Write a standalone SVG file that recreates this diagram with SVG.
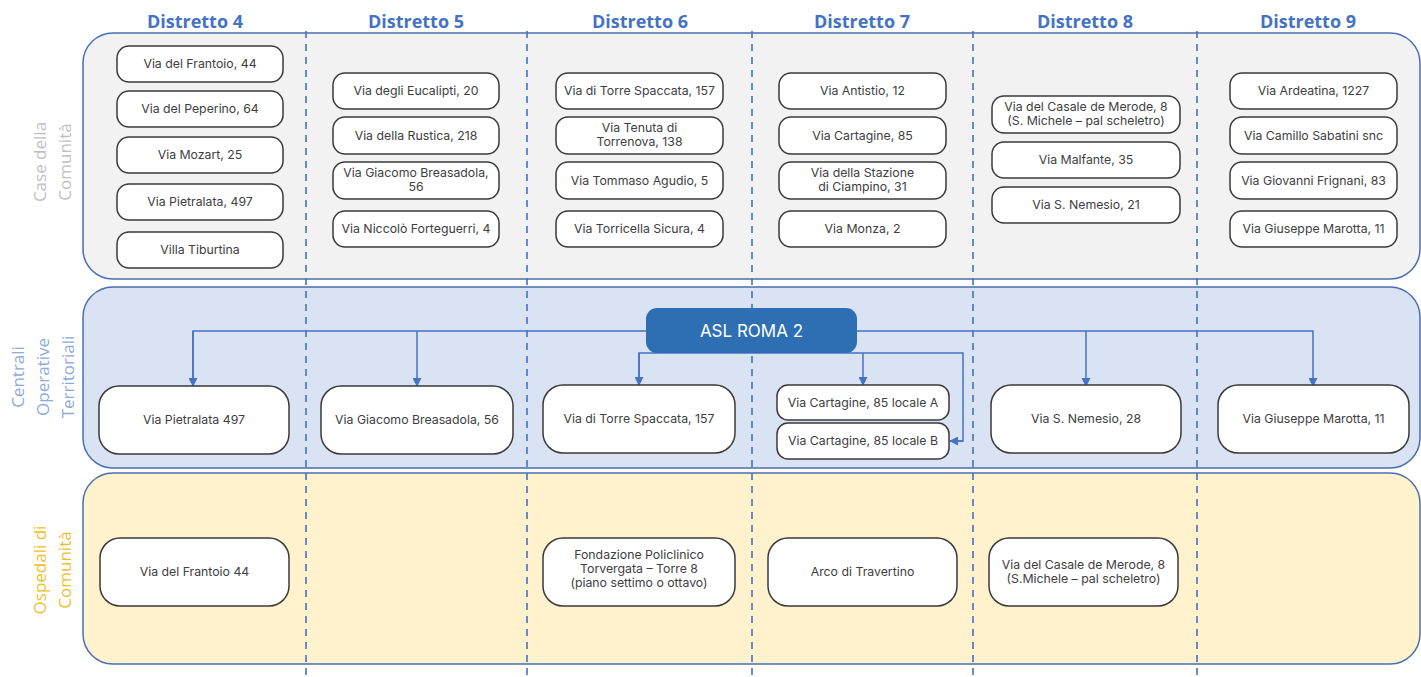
<svg xmlns="http://www.w3.org/2000/svg" width="1421" height="677" viewBox="0 0 1421 677">
  <style>
    .hdr { font-family: "Open Sans", "Liberation Sans", sans-serif; font-weight: 700; font-size: 18px; fill: #4472c4; text-anchor: middle; }
    .side { font-family: "Open Sans", "Liberation Sans", sans-serif; font-weight: 400; font-size: 17px; text-anchor: middle; }
    .box { fill: #ffffff; stroke: #3a3a3a; stroke-width: 1.5; }
    .t { font-family: Inter, "Noto Sans", "Liberation Sans", sans-serif; font-size: 12.3px; fill: #404040; text-anchor: middle; }
    .sep { stroke: #4472c4; stroke-width: 1.6; stroke-dasharray: 7 6; fill: none; }
    .link { stroke: #4472c4; stroke-width: 1.5; fill: none; }
  </style>
  <defs>
    <marker id="arr" viewBox="0 0 10 10" refX="9" refY="5" markerWidth="9" markerHeight="9" markerUnits="userSpaceOnUse" orient="auto">
      <path d="M0,0 L10,5 L0,10 Z" fill="#4472c4"/>
    </marker>
  </defs>

  <rect width="1421" height="677" fill="#ffffff"/>

  <!-- horizontal bands -->
  <g id="bands">
    <rect x="83" y="33" width="1337" height="246" rx="30" fill="#f2f2f2" stroke="#4a6fb0" stroke-width="1.5"/>
    <rect x="83" y="287" width="1337" height="181" rx="30" fill="#dae3f3" stroke="#4a6fb0" stroke-width="1.5"/>
    <rect x="83" y="473" width="1337" height="191" rx="30" fill="#fff2cc" stroke="#4a6fb0" stroke-width="1.5"/>
  </g>

  <!-- band labels -->
  <g id="band-labels">
    <text class="side" fill="#bfbfbf" transform="translate(46,162) rotate(-90)"><tspan x="0" dy="0">Case della</tspan><tspan x="0" dy="25">Comunità</tspan></text>
    <text class="side" fill="#8eaadb" transform="translate(24,377) rotate(-90)"><tspan x="0" dy="0">Centrali</tspan><tspan x="0" dy="25">Operative</tspan><tspan x="0" dy="25">Territoriali</tspan></text>
    <text class="side" fill="#eebf2c" transform="translate(46,570) rotate(-90)"><tspan x="0" dy="0">Ospedali di</tspan><tspan x="0" dy="25">Comunità</tspan></text>
  </g>

  <!-- district separators -->
  <g id="separators">
    <line class="sep" x1="306" y1="31" x2="306" y2="677"/>
    <line class="sep" x1="527" y1="31" x2="527" y2="677"/>
    <line class="sep" x1="752" y1="31" x2="752" y2="677"/>
    <line class="sep" x1="973" y1="31" x2="973" y2="677"/>
    <line class="sep" x1="1197" y1="31" x2="1197" y2="677"/>
  </g>

  <!-- district headers -->
  <g id="headers">
    <text class="hdr" x="195" y="28">Distretto 4</text>
    <text class="hdr" x="416" y="28">Distretto 5</text>
    <text class="hdr" x="640" y="28">Distretto 6</text>
    <text class="hdr" x="862" y="28">Distretto 7</text>
    <text class="hdr" x="1085" y="28">Distretto 8</text>
    <text class="hdr" x="1308" y="28">Distretto 9</text>
  </g>

  <!-- connectors -->
  <g id="connectors">
    <polyline class="link" points="193,386 193,331 1313,331 1313,386" marker-end="url(#arr)"/>
    <line class="link" x1="193" y1="331" x2="193" y2="386" marker-end="url(#arr)"/>
    <line class="link" x1="417" y1="331" x2="417" y2="386" marker-end="url(#arr)"/>
    <line class="link" x1="1086" y1="331" x2="1086" y2="386" marker-end="url(#arr)"/>
    <polyline class="link" points="639,386 639,353 963,353 963,441 950,441"/>
    <line class="link" x1="639" y1="353" x2="639" y2="385" marker-end="url(#arr)"/>
    <line class="link" x1="863" y1="353" x2="863" y2="385" marker-end="url(#arr)"/>
    <line class="link" x1="963" y1="441" x2="950" y2="441" marker-end="url(#arr)"/>
  </g>

  <!-- ASL ROMA 2 -->
  <g id="asl">
    <rect x="646" y="308" width="211" height="45" rx="11" fill="#2e6fb4"/>
    <text x="751.5" y="337" font-family="Inter, 'Noto Sans', sans-serif" font-size="17" fill="#ffffff" text-anchor="middle">ASL ROMA 2</text>
  </g>

  <!-- Case della Comunità: Distretto 4 -->
  <g id="cdc-d4">
    <rect class="box" x="117" y="46" width="166" height="36" rx="12"/><text class="t" x="200" y="68">Via del Frantoio, 44</text>
    <rect class="box" x="117" y="91" width="166" height="36" rx="12"/><text class="t" x="200" y="113">Via del Peperino, 64</text>
    <rect class="box" x="117" y="137" width="166" height="36" rx="12"/><text class="t" x="200" y="159">Via Mozart, 25</text>
    <rect class="box" x="117" y="184" width="166" height="36" rx="12"/><text class="t" x="200" y="206">Via Pietralata, 497</text>
    <rect class="box" x="117" y="232" width="166" height="36" rx="12"/><text class="t" x="200" y="254">Villa Tiburtina</text>
  </g>

  <!-- Case della Comunità: Distretto 5 -->
  <g id="cdc-d5">
    <rect class="box" x="333" y="73" width="166" height="36" rx="12"/><text class="t" x="416" y="95">Via degli Eucalipti, 20</text>
    <rect class="box" x="333" y="117" width="166" height="37" rx="12"/><text class="t" x="416" y="140">Via della Rustica, 218</text>
    <rect class="box" x="333" y="162" width="166" height="37" rx="12"/><text class="t" x="416" y="177">Via Giacomo Breasadola,</text><text class="t" x="416" y="191">56</text>
    <rect class="box" x="333" y="211" width="166" height="36" rx="12"/><text class="t" x="416" y="233">Via Niccolò Forteguerri, 4</text>
  </g>

  <!-- Case della Comunità: Distretto 6 -->
  <g id="cdc-d6">
    <rect class="box" x="556" y="73" width="167" height="36" rx="12"/><text class="t" x="639.5" y="95">Via di Torre Spaccata, 157</text>
    <rect class="box" x="556" y="117" width="167" height="37" rx="12"/><text class="t" x="639.5" y="132">Via Tenuta di</text><text class="t" x="639.5" y="146">Torrenova, 138</text>
    <rect class="box" x="556" y="162" width="167" height="37" rx="12"/><text class="t" x="639.5" y="185">Via Tommaso Agudio, 5</text>
    <rect class="box" x="556" y="211" width="167" height="36" rx="12"/><text class="t" x="639.5" y="233">Via Torricella Sicura, 4</text>
  </g>

  <!-- Case della Comunità: Distretto 7 -->
  <g id="cdc-d7">
    <rect class="box" x="779" y="73" width="167" height="36" rx="12"/><text class="t" x="862.5" y="95">Via Antistio, 12</text>
    <rect class="box" x="779" y="117" width="167" height="37" rx="12"/><text class="t" x="862.5" y="140">Via Cartagine, 85</text>
    <rect class="box" x="779" y="162" width="167" height="37" rx="12"/><text class="t" x="862.5" y="177">Via della Stazione</text><text class="t" x="862.5" y="191">di Ciampino, 31</text>
    <rect class="box" x="779" y="211" width="167" height="36" rx="12"/><text class="t" x="862.5" y="233">Via Monza, 2</text>
  </g>

  <!-- Case della Comunità: Distretto 8 -->
  <g id="cdc-d8">
    <rect class="box" x="992" y="96" width="188" height="37" rx="12"/><text class="t" x="1086" y="111">Via del Casale de Merode, 8</text><text class="t" x="1086" y="125">(S. Michele – pal scheletro)</text>
    <rect class="box" x="992" y="142" width="188" height="36" rx="12"/><text class="t" x="1086" y="164">Via Malfante, 35</text>
    <rect class="box" x="992" y="187" width="188" height="36" rx="12"/><text class="t" x="1086" y="209">Via S. Nemesio, 21</text>
  </g>

  <!-- Case della Comunità: Distretto 9 -->
  <g id="cdc-d9">
    <rect class="box" x="1230" y="73" width="167" height="36" rx="12"/><text class="t" x="1313.5" y="95">Via Ardeatina, 1227</text>
    <rect class="box" x="1230" y="117" width="167" height="37" rx="12"/><text class="t" x="1313.5" y="140">Via Camillo Sabatini snc</text>
    <rect class="box" x="1230" y="162" width="167" height="37" rx="12"/><text class="t" x="1313.5" y="185">Via Giovanni Frignani, 83</text>
    <rect class="box" x="1230" y="211" width="167" height="36" rx="12"/><text class="t" x="1313.5" y="233">Via Giuseppe Marotta, 11</text>
  </g>

  <!-- Centrali Operative Territoriali -->
  <g id="cot-d4"><rect class="box" x="99" y="386" width="190" height="68" rx="20"/><text class="t" x="194" y="424">Via Pietralata 497</text></g>
  <g id="cot-d5"><rect class="box" x="321" y="386" width="192" height="68" rx="20"/><text class="t" x="417" y="424">Via Giacomo Breasadola, 56</text></g>
  <g id="cot-d6"><rect class="box" x="543" y="385" width="192" height="68" rx="20"/><text class="t" x="639" y="423">Via di Torre Spaccata, 157</text></g>
  <g id="cot-d7a"><rect class="box" x="777" y="385" width="172" height="35" rx="11"/><text class="t" x="863" y="406.5">Via Cartagine, 85 locale A</text></g>
  <g id="cot-d7b"><rect class="box" x="777" y="423" width="172" height="36" rx="11"/><text class="t" x="863" y="445">Via Cartagine, 85 locale B</text></g>
  <g id="cot-d8"><rect class="box" x="991" y="385" width="190" height="68" rx="20"/><text class="t" x="1086" y="423">Via S. Nemesio, 28</text></g>
  <g id="cot-d9"><rect class="box" x="1218" y="385" width="191" height="68" rx="20"/><text class="t" x="1313.5" y="423">Via Giuseppe Marotta, 11</text></g>

  <!-- Ospedali di Comunità -->
  <g id="odc-d4"><rect class="box" x="100" y="538" width="189" height="68" rx="20"/><text class="t" x="194.5" y="576">Via del Frantoio 44</text></g>
  <g id="odc-d6"><rect class="box" x="543" y="538" width="192" height="68" rx="20"/><text class="t" x="639" y="559">Fondazione Policlinico</text><text class="t" x="639" y="573">Torvergata – Torre 8</text><text class="t" x="639" y="587">(piano settimo o ottavo)</text></g>
  <g id="odc-d7"><rect class="box" x="768" y="538" width="189" height="68" rx="20"/><text class="t" x="862.5" y="576">Arco di Travertino</text></g>
  <g id="odc-d8"><rect class="box" x="989" y="538" width="189" height="68" rx="20"/><text class="t" x="1083.5" y="569">Via del Casale de Merode, 8</text><text class="t" x="1083.5" y="583">(S.Michele – pal scheletro)</text></g>
</svg>
